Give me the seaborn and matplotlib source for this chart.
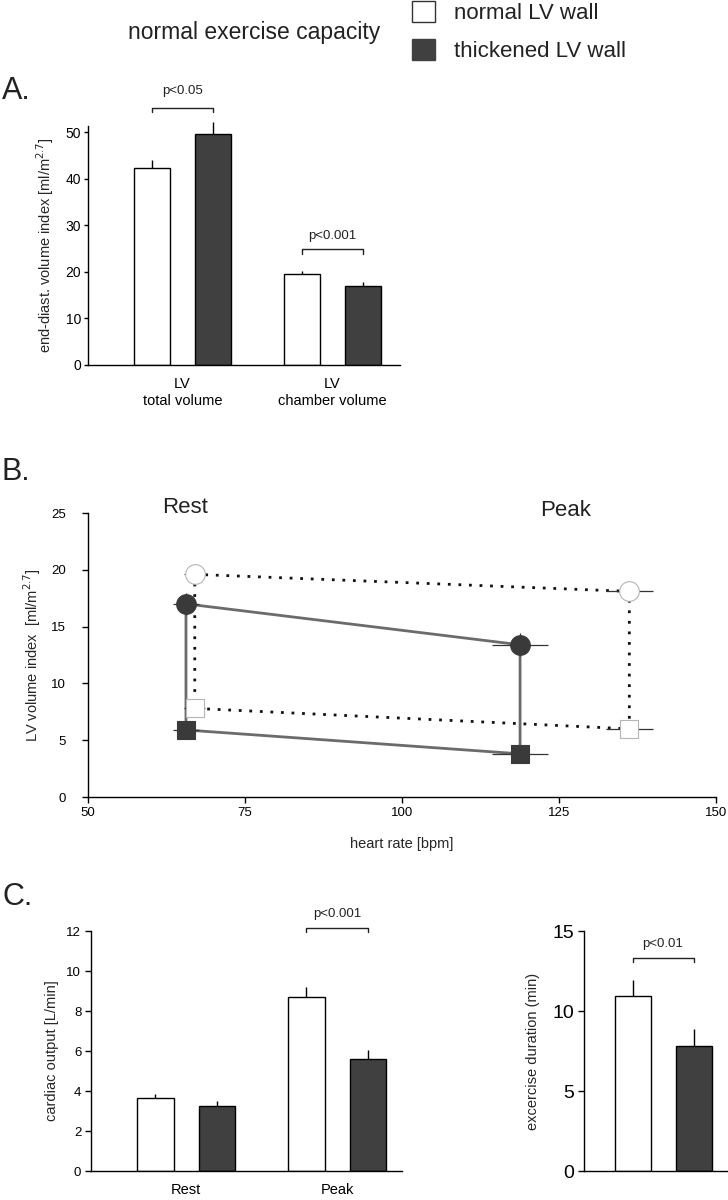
import numpy as np
import pandas as pd
import matplotlib
matplotlib.use('Agg')
import matplotlib.pyplot as plt
import seaborn as sns
from matplotlib.patches import Patch

# --- panel A: end-diastolic volume index ---
a_categories = ['LV\ntotal volume', 'LV\nchamber volume']
a_normal = [42.3, 19.5]
a_normal_err = [1.7, 0.7]
a_thick = [49.6, 17.0]
a_thick_err = [2.5, 0.8]

# --- panel B: volume vs heart rate, rest and peak ---
b_phases = ['Rest', 'Peak']
b_hr_normal = [67.0, 136.2]
b_hr_normal_err = [1.7, 3.7]
b_hr_thick = [65.6, 118.8]
b_hr_thick_err = [2.0, 4.5]
b_edv_normal = [19.6, 18.1]
b_edv_normal_err = [0.9, 0.9]
b_esv_normal = [7.8, 6.0]
b_esv_normal_err = [0.5, 0.4]
b_edv_thick = [17.0, 13.4]
b_edv_thick_err = [1.0, 1.0]
b_esv_thick = [5.9, 3.8]
b_esv_thick_err = [0.5, 0.5]

# --- panel C: cardiac output and exercise duration ---
c_phases = ['Rest', 'Peak']
c_normal = [3.65, 8.7]
c_normal_err = [0.2, 0.5]
c_thick = [3.25, 5.6]
c_thick_err = [0.25, 0.45]
d_category = ['all']
d_normal = [10.95]
d_normal_err = [1.0]
d_thick = [7.8]
d_thick_err = [1.05]

DARK = '#404040'
LINE_GREY = '#6b6b6b'

sns.set_style('ticks')
plt.rcParams['font.family'] = ['Liberation Sans', 'DejaVu Sans']
plt.rcParams['axes.linewidth'] = 1.0
plt.rcParams['xtick.major.width'] = 1.0
plt.rcParams['ytick.major.width'] = 1.0
plt.rcParams['xtick.color'] = 'black'
plt.rcParams['ytick.color'] = 'black'
plt.rcParams['axes.edgecolor'] = 'black'
plt.rcParams['text.color'] = '#222222'

fig = plt.figure(figsize=(7.28, 12), dpi=100)
W, H = 728.0, 1200.0


def px_axes(left, top, right, bottom):
    return fig.add_axes([left / W, 1 - bottom / H, (right - left) / W, (bottom - top) / H])


def bar_panel(ax, cats, normal, normal_err, thick, thick_err):
    df = pd.DataFrame({
        'cat': cats * 2,
        'wall': ['normal'] * len(cats) + ['thick'] * len(cats),
        'val': normal + thick,
        'err': normal_err + thick_err,
    })
    sns.barplot(data=df, x='cat', y='val', hue='wall', order=cats,
                hue_order=['normal', 'thick'],
                palette={'normal': 'white', 'thick': DARK}, saturation=1,
                width=0.813, gap=0.41, edgecolor='black', linewidth=1.0,
                errorbar=None, legend=False, ax=ax)
    centers = np.array([p.get_x() + p.get_width() / 2 for p in ax.patches])
    eb = ax.errorbar(centers, df['val'], yerr=[np.zeros(len(df)), df['err']],
                     fmt='none', ecolor='black', elinewidth=1.0, capsize=0, zorder=3)
    for coll in eb.lines[2]:
        coll.set_clip_on(False)
    sns.despine(ax=ax)
    ax.set_xlabel('')
    ax.tick_params(axis='x', length=0)
    return centers


def bracket(ax, x1, x2, y, leg, ty, text, fs=9.5):
    ax.plot([x1, x1, x2, x2], [y - leg, y, y, y - leg], color='#222222', lw=1.0,
            clip_on=False)
    ax.text((x1 + x2) / 2, ty, text, ha='center', va='center', fontsize=fs,
            clip_on=False)


# ---------------- panel A ----------------
axA = px_axes(88, 126, 400, 365)
cA = bar_panel(axA, a_categories, a_normal, a_normal_err, a_thick, a_thick_err)
axA.set_xlim(-0.63, 1.45)
axA.set_ylim(0, 51.3)
axA.set_yticks([0, 10, 20, 30, 40, 50])
axA.tick_params(axis='y', labelsize=10, length=3, pad=2)
axA.tick_params(axis='x', labelsize=10.5, pad=9)
axA.set_ylabel('end-diast. volume index [ml/m$^{2.7}$]', fontsize=10.5, labelpad=7)
bracket(axA, cA[0], cA[2], 55.1, 0.9, 58.8, 'p<0.05')
bracket(axA, cA[1], cA[3], 24.9, 1.1, 27.6, 'p<0.001')

# ---------------- panel B ----------------
axB = px_axes(88, 513, 716, 797)
groups = [
    ('normal', b_hr_normal, b_hr_normal_err, b_edv_normal, b_edv_normal_err,
     b_esv_normal, b_esv_normal_err),
    ('thick', b_hr_thick, b_hr_thick_err, b_edv_thick, b_edv_thick_err,
     b_esv_thick, b_esv_thick_err),
]
for name, hr, hr_err, edv, edv_err, esv, esv_err in groups:
    path = pd.DataFrame({
        'hr': [hr[0], hr[1], hr[1], hr[0], hr[0]],
        'vol': [edv[0], edv[1], esv[1], esv[0], edv[0]],
    })
    if name == 'normal':
        sns.lineplot(data=path, x='hr', y='vol', sort=False, estimator=None,
                     color='#111111', lw=2.0, linestyle=(0, (1, 2.8)), ax=axB,
                     zorder=2)
    else:
        sns.lineplot(data=path, x='hr', y='vol', sort=False, estimator=None,
                     color=LINE_GREY, lw=2.0, ax=axB, zorder=2)
    for vol, vol_err in [(edv, edv_err), (esv, esv_err)]:
        axB.errorbar(hr, vol, xerr=hr_err, yerr=vol_err, fmt='none',
                     ecolor='#333333', elinewidth=0.9, capsize=0, zorder=3)

    face = 'white' if name == 'normal' else '#3a3a3a'
    edge = '#b5b5b5' if name == 'normal' else '#3a3a3a'
    sns.scatterplot(x=hr, y=edv, marker='o', s=200, color=face, edgecolor=edge,
                    linewidth=0.8, ax=axB, zorder=4)
    sns.scatterplot(x=hr, y=esv, marker='s', s=170, color=face, edgecolor=edge,
                    linewidth=0.8, ax=axB, zorder=4)

axB.set_xlim(50, 150)
axB.set_ylim(0, 25)
axB.set_xticks([50, 75, 100, 125, 150])
axB.set_yticks([0, 5, 10, 15, 20, 25])
axB.tick_params(axis='both', labelsize=9.5, length=4)
axB.tick_params(axis='y', pad=12)
axB.set_xlabel('heart rate [bpm]', fontsize=10.5, labelpad=13)
axB.set_ylabel('LV volume index  [ml/m$^{2.7}$]', fontsize=10.5, labelpad=6)
sns.despine(ax=axB)
axB.text(65.5, 25.5, b_phases[0], fontsize=16, ha='center', va='center',
         clip_on=False)
axB.text(126.1, 25.2, b_phases[1], fontsize=16, ha='center', va='center',
         clip_on=False)

# ---------------- panel C (cardiac output) ----------------
axC = px_axes(91, 931, 402, 1171)
cC = bar_panel(axC, c_phases, c_normal, c_normal_err, c_thick, c_thick_err)
axC.set_xlim(-0.63, 1.43)
axC.set_ylim(0, 12)
axC.set_yticks([0, 2, 4, 6, 8, 10, 12])
axC.tick_params(axis='y', labelsize=9.5, length=4, pad=3)
axC.tick_params(axis='x', labelsize=10.5, pad=9)
axC.set_ylabel('cardiac output [L/min]', fontsize=10.5, labelpad=5)
bracket(axC, cC[1], cC[3], 12.15, 0.2, 12.85, 'p<0.001')

# ---------------- panel C (exercise duration) ----------------
axD = px_axes(584, 931, 728, 1171)
cD = bar_panel(axD, d_category, d_normal, d_normal_err, d_thick, d_thick_err)
axD.set_xlim(-0.527, 0.433)
axD.set_ylim(0, 15)
axD.set_yticks([0, 5, 10, 15])
axD.set_xticks([])
axD.tick_params(axis='y', labelsize=14, length=4, pad=3)
axD.set_ylabel('excercise duration (min)', fontsize=10.5, labelpad=9)
bracket(axD, cD[0], cD[1], 13.3, 0.25, 14.2, 'p<0.01')

# ---------------- header, legend, panel letters ----------------
fig.text(254 / W, 1 - 33 / H, 'normal exercise capacity', fontsize=16.5,
         ha='center', va='center')
handles = [Patch(facecolor='white', edgecolor='#333333', lw=1.0, label='normal LV wall'),
           Patch(facecolor=DARK, edgecolor=DARK, lw=1.0, label='thickened LV wall')]
fig.legend(handles=handles, loc='upper left', bbox_to_anchor=(412 / W, 1 - 1 / H),
           frameon=False, fontsize=16, handlelength=1.05, handleheight=1.05,
           handletextpad=0.85, labelspacing=0.7, borderpad=0, borderaxespad=0)

for letter, y in [('A.', 91), ('B.', 472), ('C.', 897)]:
    fig.text(2 / W, 1 - y / H, letter, fontsize=22, ha='left', va='center')

fig.savefig('out.png', dpi=100)
